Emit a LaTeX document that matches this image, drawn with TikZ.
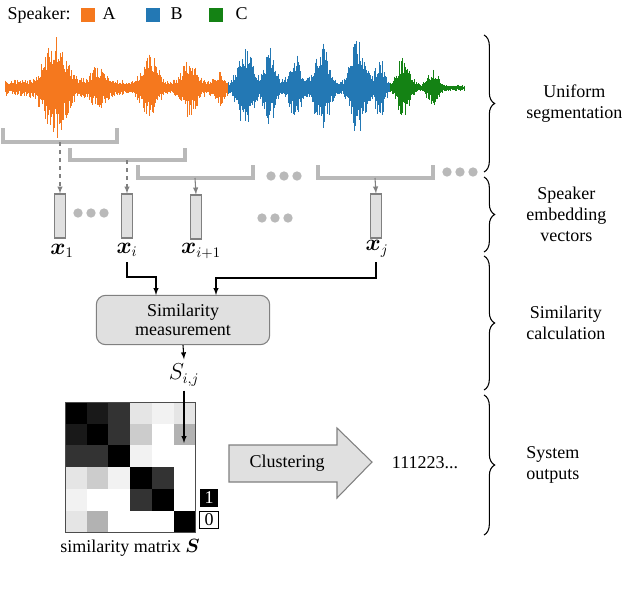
\documentclass[tikz,border=0pt]{standalone}
\usepackage{fontspec}
\usepackage{amsmath,bm}
\setmainfont{Liberation Serif}
\usetikzlibrary{decorations.pathreplacing}
\definecolor{cA}{RGB}{245,120,30}
\definecolor{cB}{RGB}{35,120,180}
\definecolor{cC}{RGB}{20,130,20}
\definecolor{segc}{RGB}{185,185,185}
\definecolor{boxf}{RGB}{224,224,224}
\begin{document}
\begin{tikzpicture}[x=0.75pt,y=-0.75pt,font=\fontsize{13.5}{15.5}\selectfont,
  seg/.style={segc,line width=2.4pt},
  dotc/.style={circle,fill=segc,inner sep=0pt,minimum size=7pt},
  vec/.style={draw=gray,fill=boxf,thick,minimum width=8pt,minimum height=33pt,inner sep=0pt},
  darr/.style={gray,dashed,-latex,thick},
  garr/.style={gray,-latex,thick},
  karr/.style={black,-latex,thick},
  mlb/.style={font=\fontsize{16}{18}\selectfont},
  brace/.style={decorate,decoration={brace,amplitude=8pt},thick},
  lab/.style={align=center}]
\useasboundingbox (0,0) rectangle (624,590);
% legend
\node[anchor=west] (spk) at (3,15) {Speaker:};
\fill[cA] (81,8) rectangle (95,22); \node[anchor=west] (la) at (98,14) {A};
\fill[cB] (146,8) rectangle (160,22); \node[anchor=west] (lb) at (166,14) {B};
\fill[cC] (209,8) rectangle (223,22); \node[anchor=west] (lc) at (231,14) {C};
% waveform
\pgfmathsetseed{7}
\foreach \x in {5,5.6,...,465}{
  \pgfmathsetmacro{\env}{3+5*(\x<228)+45*exp(-((\x-55)/14)^2)+14*exp(-((\x-98)/10)^2)+28*exp(-((\x-150)/9)^2)+24*exp(-((\x-190)/8)^2)+10*exp(-((\x-220)/5)^2)
   +(\x>228)*(\x<390)*(38*exp(-((\x-245)/10)^2)+36*exp(-((\x-270)/8)^2)+30*exp(-((\x-295)/8)^2)+40*exp(-((\x-322)/10)^2)+48*exp(-((\x-358)/10)^2)+28*exp(-((\x-380)/6)^2))
   +(\x>390)*(26*exp(-((\x-403)/9)^2)+16*exp(-((\x-433)/7)^2))}
  \pgfmathsetmacro{\up}{\env*(0.45+0.6*rnd^2)}
  \pgfmathsetmacro{\dn}{\env*(0.4+0.6*rnd^2)}
  \ifdim \x pt<228pt \def\cc{cA}\else\ifdim \x pt<390pt \def\cc{cB}\else\def\cc{cC}\fi\fi
  \draw[\cc,line width=0.7pt] (\x,88-\up) -- (\x,88+\dn);
}
% segments
\draw[seg] (3,128) |- (117,142) -- (117,128);
\draw[seg] (70,148) |- (185,160) -- (185,148);
\draw[seg] (138,165) |- (253,178) -- (253,165);
\draw[seg] (318,165) |- (433,178) -- (433,165);
\node[dotc] (d1) at (271,176) {}; \node[dotc] at (284,176) {}; \node[dotc] at (297,176) {};
\node[dotc] (d2) at (447,172) {}; \node[dotc] at (460,172) {}; \node[dotc] at (473,172) {};
\coordinate (s1) at (60,142); \coordinate (s2) at (127,160);
\coordinate (s3) at (195,178); \coordinate (s4) at (375,178);
% vectors
\node[vec] (x1) at (60,216) {};
\node[vec] (xi) at (127,216) {};
\node[vec] (xi1) at (196,217) {};
\node[vec] (xj) at (376,216) {};
\draw[darr] (s1) -- (x1.north);
\draw[darr] (s2) -- (xi.north);
\draw[garr] (s3) -- (xi1.north);
\draw[garr] (s4) -- (xj.north);
\foreach \p in {78,91,104}{\node[dotc] at (\p,213) {};}
\foreach \p in {262,275,288}{\node[dotc] at (\p,218) {};}
\node[mlb] (lx1) at (62,251) {$\bm{x}_1$};
\node[mlb] (lxi) at (127,250) {$\bm{x}_i$};
\node[mlb] (lxi1) at (201,251) {$\bm{x}_{i+1}$};
\node[mlb] (lxj) at (377,249) {$\bm{x}_j$};
% similarity box
\node[draw=gray,fill=boxf,rounded corners=7pt,thick,minimum width=130pt,minimum height=37pt,lab,inner sep=1pt] (sim) at (183,320) {Similarity\\[-1pt]measurement};
\draw[karr] (127,262) |- (156,277) -- (156,295);
\draw[karr] (376,262) |- (216,278) -- (216,295);
\node[mlb] (sij) at (184,375) {$S_{i,j}$};
\draw[karr] (sim.south) -- (sij.north);
% matrix
\foreach [count=\r] \row in {{1,.9,.8,.1,.05,.1},{.9,1,.8,.2,0,.3},{.8,.8,1,.05,0,0},{.1,.2,.05,1,.8,0},{.05,0,0,.8,1,0},{.1,.3,0,0,0,1}}{
  \foreach [count=\c] \v in \row {
    \pgfmathsetmacro{\w}{100-100*\v}
    \fill[white!\w!black] ({65+(\c-1)*21.7},{402+(\r-1)*21.7}) rectangle ++(21.7,21.7);
  }}
\draw[black!70] (65,402) rectangle (195,532);
\node[fill=black,text=white,minimum width=14pt,minimum height=14pt,inner sep=0pt] (one) at (209,498) {1};
\node[draw=black,fill=white,thick,minimum width=14pt,minimum height=13pt,inner sep=0pt] (zero) at (209,520) {0};
\coordinate (cell) at (184,443);
\draw[karr] (sij.south) -- (cell);
\node (mlab) at (130,548) {similarity matrix $\bm{S}$};
% clustering arrow
\draw[gray,fill=boxf,thick] (229,445) -- (337,445) -- (337,428) -- (372,462) -- (337,498) -- (337,482) -- (229,482) -- cycle;
\node (cltxt) at (287,463) {Clustering};
\node (out) at (425,463) {111223...};
% braces
\draw[brace] (484,35) -- (484,172) node[midway,right=28pt,lab] (b1) {Uniform\\segmentation};
\draw[brace] (484,177) -- (484,252) node[midway,right=28pt,lab] (b2) {Speaker\\embedding\\vectors};
\draw[brace] (484,256) -- (484,390) node[midway,right=28pt,lab] (b3) {Similarity\\calculation};
\draw[brace] (484,395) -- (484,535) node[midway,right=28pt,lab] (b4) {System\\outputs};
\end{tikzpicture}
\end{document}
